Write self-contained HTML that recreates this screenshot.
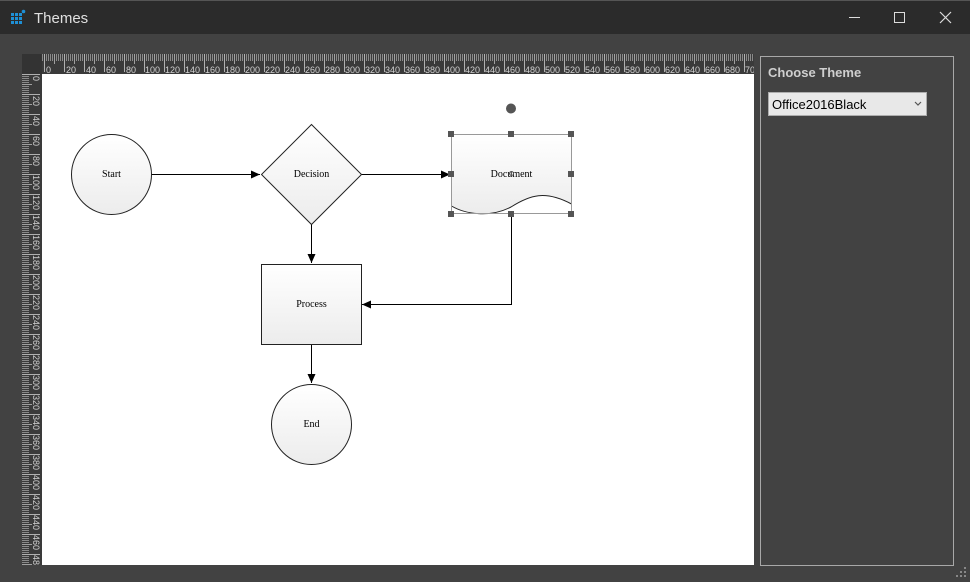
<!DOCTYPE html>
<html><head><meta charset="utf-8"><style>
html,body{margin:0;padding:0;width:970px;height:582px;overflow:hidden;background:#424242;}
svg{display:block}
</style></head><body>
<svg width="970" height="582" xmlns="http://www.w3.org/2000/svg" font-family="Liberation Sans, sans-serif">
<defs>
<linearGradient id="g" x1="0" y1="0" x2="0" y2="1"><stop offset="0" stop-color="#ffffff"/><stop offset="1" stop-color="#ececec"/></linearGradient>
<pattern id="tt" x="44" y="54" width="2" height="20" patternUnits="userSpaceOnUse"><rect x="0" y="0" width="1" height="7" fill="#8a8a8a"/></pattern>
<pattern id="tT" x="44" y="54" width="20" height="20" patternUnits="userSpaceOnUse"><rect x="0" y="0" width="1" height="18" fill="#b0b0b0"/><rect x="10" y="0" width="1" height="10" fill="#a0a0a0"/></pattern>
<pattern id="lt" x="22" y="74" width="20" height="2" patternUnits="userSpaceOnUse"><rect x="0" y="0" width="7" height="1" fill="#8a8a8a"/></pattern>
<pattern id="lT" x="22" y="74" width="20" height="20" patternUnits="userSpaceOnUse"><rect x="0" y="0" width="18" height="1" fill="#b0b0b0"/><rect x="0" y="10" width="10" height="1" fill="#a0a0a0"/></pattern>
<marker id="a" markerWidth="10" markerHeight="10" refX="9" refY="5" orient="auto" markerUnits="userSpaceOnUse"><path d="M0,1 L9,5 L0,9 z" fill="#000"/></marker>
</defs>
<rect width="970" height="582" fill="#424242"/>
<rect width="970" height="34" fill="#2b2b2b"/>
<rect x="0" y="0" width="970" height="1" fill="#555"/>
<g fill="#1e90d6">
<rect x="11" y="13" width="3" height="3"/><rect x="15" y="13" width="3" height="3"/><rect x="19" y="13" width="3" height="3"/>
<rect x="11" y="17" width="3" height="3"/><rect x="15" y="17" width="3" height="3"/><rect x="19" y="17" width="3" height="3"/>
<rect x="11" y="21" width="3" height="3"/><rect x="15" y="21" width="3" height="3"/><rect x="19" y="21" width="3" height="3"/>
<circle cx="23.5" cy="11.5" r="1.8"/></g>
<text x="34" y="23" font-size="15" fill="#e0e0e0">Themes</text>
<rect x="849" y="17" width="11" height="1" fill="#ddd"/>
<rect x="894.5" y="12.5" width="10" height="10" fill="none" stroke="#ddd"/>
<path d="M940,12 L951,23 M951,12 L940,23" stroke="#ddd" stroke-width="1.2"/>
<!-- rulers -->
<rect x="22" y="54" width="732" height="20" fill="#3a3a3a"/>
<rect x="22" y="54" width="20" height="511" fill="#3a3a3a"/>
<rect x="42" y="54" width="712" height="20" fill="url(#tt)"/>
<rect x="42" y="54" width="712" height="20" fill="url(#tT)"/>
<rect x="22" y="74" width="20" height="491" fill="url(#lt)"/>
<rect x="22" y="74" width="20" height="491" fill="url(#lT)"/>
<rect x="22" y="54" width="20" height="20" fill="#333"/>
<g font-size="9" fill="#d0d0d0">
<text x="46" y="73">0</text><text x="66" y="73">20</text><text x="86" y="73">40</text><text x="106" y="73">60</text><text x="126" y="73">80</text><text x="145" y="73">100</text><text x="165" y="73">120</text><text x="185" y="73">140</text><text x="205" y="73">160</text><text x="225" y="73">180</text><text x="245" y="73">200</text><text x="265" y="73">220</text><text x="285" y="73">240</text><text x="305" y="73">260</text><text x="325" y="73">280</text><text x="345" y="73">300</text><text x="365" y="73">320</text><text x="385" y="73">340</text><text x="405" y="73">360</text><text x="425" y="73">380</text><text x="445" y="73">400</text><text x="465" y="73">420</text><text x="485" y="73">440</text><text x="505" y="73">460</text><text x="525" y="73">480</text><text x="545" y="73">500</text><text x="565" y="73">520</text><text x="585" y="73">540</text><text x="605" y="73">560</text><text x="625" y="73">580</text><text x="645" y="73">600</text><text x="665" y="73">620</text><text x="685" y="73">640</text><text x="705" y="73">660</text><text x="725" y="73">680</text><text x="745" y="73">700</text>
</g>
<rect x="754" y="54" width="10" height="20" fill="#424242"/>
<g font-size="9" fill="#d0d0d0">
<text transform="translate(33,76) rotate(90)">0</text><text transform="translate(33,96) rotate(90)">20</text><text transform="translate(33,116) rotate(90)">40</text><text transform="translate(33,136) rotate(90)">60</text><text transform="translate(33,156) rotate(90)">80</text><text transform="translate(33,175) rotate(90)">100</text><text transform="translate(33,195) rotate(90)">120</text><text transform="translate(33,215) rotate(90)">140</text><text transform="translate(33,235) rotate(90)">160</text><text transform="translate(33,255) rotate(90)">180</text><text transform="translate(33,275) rotate(90)">200</text><text transform="translate(33,295) rotate(90)">220</text><text transform="translate(33,315) rotate(90)">240</text><text transform="translate(33,335) rotate(90)">260</text><text transform="translate(33,355) rotate(90)">280</text><text transform="translate(33,375) rotate(90)">300</text><text transform="translate(33,395) rotate(90)">320</text><text transform="translate(33,415) rotate(90)">340</text><text transform="translate(33,435) rotate(90)">360</text><text transform="translate(33,455) rotate(90)">380</text><text transform="translate(33,475) rotate(90)">400</text><text transform="translate(33,495) rotate(90)">420</text><text transform="translate(33,515) rotate(90)">440</text><text transform="translate(33,535) rotate(90)">460</text><text transform="translate(33,555) rotate(90)">480</text>
</g>
<rect x="22" y="565" width="20" height="10" fill="#424242"/>
<!-- canvas -->
<rect x="42" y="74" width="712" height="491" fill="#fff"/>
<g stroke="#000" stroke-width="1" fill="none">
<path d="M151,174.5 H260" marker-end="url(#a)"/>
<path d="M361,174.5 H450" marker-end="url(#a)"/>
<path d="M311.5,224 V263" marker-end="url(#a)"/>
<path d="M511.5,214 V304.5 H362" marker-end="url(#a)"/>
<path d="M311.5,344 V383" marker-end="url(#a)"/>
</g>
<g stroke="#222" stroke-width="1" fill="url(#g)">
<circle cx="111.5" cy="174.5" r="40"/>
<path d="M311.5,124.5 L361.5,174.5 L311.5,224.5 L261.5,174.5 Z"/>
<path d="M451.5,134.5 H571.5 V204 C545,190 530,195 511,207 C490,218 465,214 451.5,206 Z"/>
<rect x="261.5" y="264.5" width="100" height="80"/>
<circle cx="311.5" cy="424.5" r="40"/>
</g>
<g font-family="Liberation Serif, serif" font-size="10" fill="#000" text-anchor="middle">
<text x="111.5" y="177">Start</text>
<text x="311.5" y="177">Decision</text>
<text x="511.5" y="177">Document</text>
<text x="311.5" y="307">Process</text>
<text x="311.5" y="427">End</text>
</g>
<g>
<path d="M451.5,134.5 H571.5 V213.5 H451.5 Z" fill="none" stroke="#999" stroke-width="1"/>
<g fill="#555">
<rect x="448" y="131" width="6" height="6"/><rect x="508" y="131" width="6" height="6"/><rect x="568" y="131" width="6" height="6"/>
<rect x="448" y="171" width="6" height="6"/><rect x="568" y="171" width="6" height="6"/>
<rect x="448" y="211" width="6" height="6"/><rect x="508" y="211" width="6" height="6"/><rect x="568" y="211" width="6" height="6"/>
<circle cx="511" cy="108.5" r="5"/>
</g>
<circle cx="511.5" cy="173.5" r="2" fill="none" stroke="#555"/>
</g>
<rect x="760.5" y="56.5" width="193" height="509" fill="none" stroke="#a8a8a8"/>
<text x="768" y="77" font-size="13" font-weight="bold" fill="#cfcfcf">Choose Theme</text>
<rect x="768.5" y="92.5" width="158" height="23" fill="#e8e8e8" stroke="#adadad"/>
<text x="772" y="109" font-size="13" fill="#000">Office2016Black</text>
<path d="M915,102 L918,105 L921,102" fill="none" stroke="#555" stroke-width="1.2"/>
<g fill="#888"><rect x="964" y="575" width="2" height="2"/><rect x="960" y="575" width="2" height="2"/><rect x="964" y="571" width="2" height="2"/><rect x="956" y="575" width="2" height="2"/><rect x="960" y="571" width="2" height="2"/><rect x="964" y="567" width="2" height="2"/></g>
</svg>
</body></html>
